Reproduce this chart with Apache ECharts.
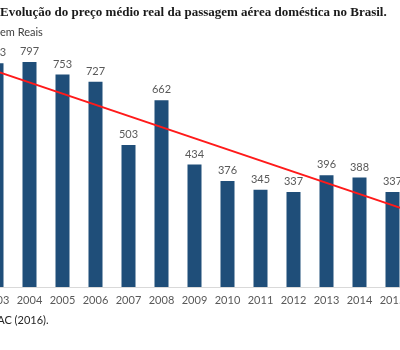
<!DOCTYPE html>
<html>
<head>
<meta charset="utf-8">
<script src="https://cdn.jsdelivr.net/npm/echarts@6/dist/echarts.min.js"></script>
<style>
	html, body { margin: 0; padding: 0; background: #fff; }
	#chart { width: 400px; height: 350px; }
</style>
</head>
<body>
<div id="chart"></div>
<script>
// dados
var years = ['2003', '2004', '2005', '2006', '2007', '2008', '2009', '2010', '2011', '2012', '2013', '2014', '2015'];
var precos = [793, 797, 753, 727, 503, 662, 434, 376, 345, 337, 396, 388, 337];
// linha de tendencia: valor na borda esquerda e direita da area
var trendLine = [[0, 784], [1, 270]];

var titulo = 'Evolução do preço médio real da passagem aérea doméstica no Brasil.';
var unidade = 'em Reais';
var fonte = 'Fonte: ANAC (2016).';

var chart = echarts.init(document.getElementById('chart'));

var opt = {
	animation: false,
	grid: { left: -20, right: -9, top: 33, bottom: 63, outerBoundsMode: 'none', containLabel: false },
	xAxis: [{
		type: 'category',
		data: years,
		axisLine: { lineStyle: { color: '#d9d9d9' } },
		axisTick: { lineStyle: { color: '#bfbfbf' }, length: 4 },
		axisLabel: { color: '#595959', fontSize: 11, fontFamily: 'Lato', margin: 8, interval: 0 }
	}, {
		type: 'value',
		min: 0,
		max: 1,
		show: false
	}],
	yAxis: {
		type: 'value',
		min: 0,
		max: 900,
		show: false,
		splitLine: { show: false }
	},
	series: [{
		type: 'bar',
		data: precos,
		barWidth: 14,
		itemStyle: { color: '#1f4e79' },
		label: {
			show: true,
			position: 'top',
			distance: 5,
			color: '#595959',
			fontSize: 11,
			fontFamily: 'Lato'
		}
	}, {
		type: 'line',
		xAxisIndex: 1,
		data: trendLine,
		symbol: 'none',
		lineStyle: { color: '#ff1a1a', width: 2 },
		z: 5
	}],
	graphic: [{
		type: 'text',
		left: 0,
		top: 6,
		style: { text: titulo, font: 'bold 13px "Liberation Serif"', fill: '#1a1a1a' }
	}, {
		type: 'text',
		left: 0,
		top: 27,
		style: { text: unidade, font: '11px Lato', fill: '#404040' }
	}, {
		type: 'text',
		left: -52,
		top: 315,
		style: { text: fonte, font: '11px Lato', fill: '#262626' }
	}]
};

chart.setOption(opt);
</script>
</body>
</html>
